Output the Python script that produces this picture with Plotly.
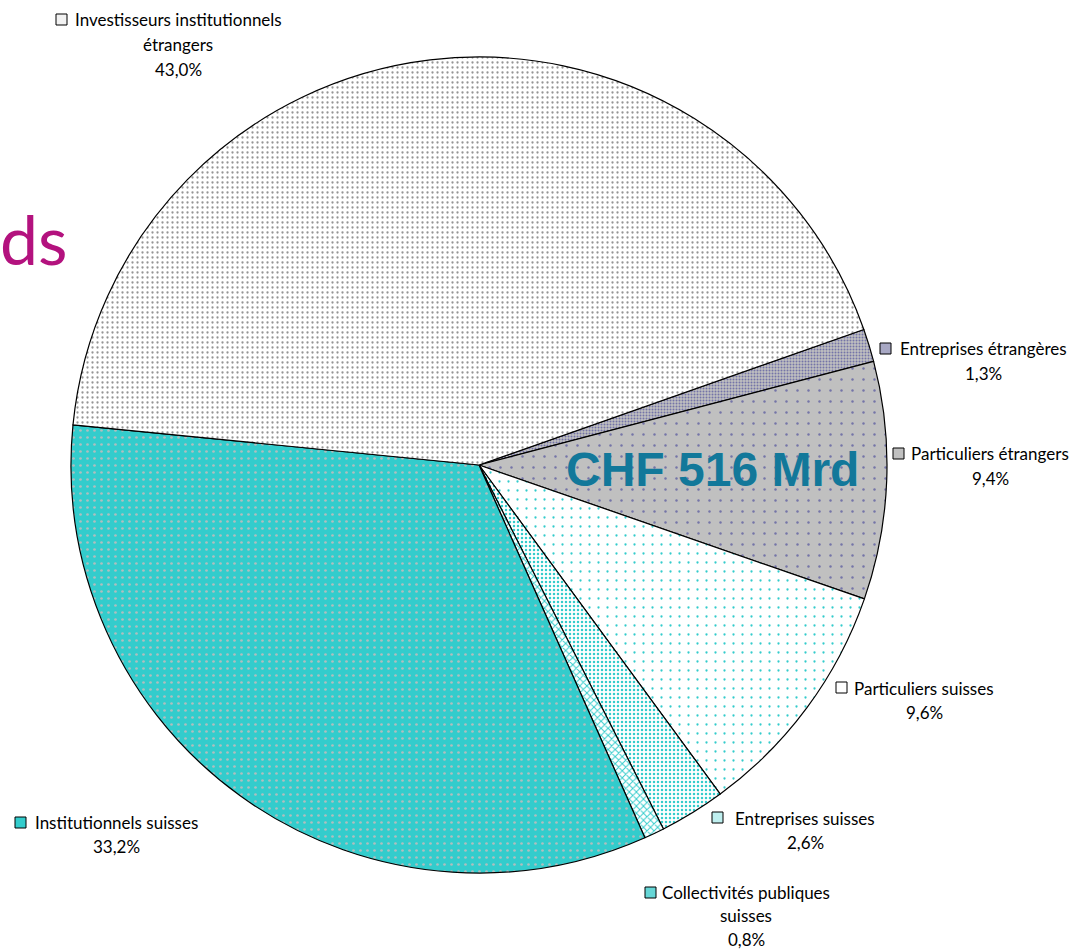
import plotly.graph_objects as go

W, H = 1075, 949

labels = ["Entreprises étrangères", "Particuliers étrangers", "Particuliers suisses",
          "Entreprises suisses", "Collectivités publiques suisses", "Institutionnels suisses",
          "Investisseurs institutionnels étrangers"]
values = [1.3, 9.4, 9.6, 2.6, 0.8, 33.2, 43.0]
label_texts = ["Entreprises étrangères<br>1,3%",
               "Particuliers étrangers<br>9,4%",
               "Particuliers suisses<br>9,6%",
               "Entreprises suisses<br>2,6%",
               "Collectivités publiques<br>suisses<br>0,8%",
               "Institutionnels suisses<br>33,2%",
               "Investisseurs institutionnels<br>étrangers<br>43,0%"]

bg = ["#C0C0C0", "#C0C0C0", "#FFFFFF", "#FFFFFF", "#FFFFFF", "#33CCCC", "#FFFFFF"]
fg = ["#7474A8", "#7474A8", "#33CCCC", "#33CCCC", "#33CCCC", "#B0BEBE", "#959595"]
key_fill = ["#A8A8C4", "#C0C0C0", "#FFFFFF", "#BFEFEF", "#66D6D6", "#33CCCC", "#F2F2F2"]
shapes_p = [".", ".", ".", ".", "x", ".", "."]
psize = [3, 11, 9, 4, 5, 7, 5]
psol = [0.35, 0.04, 0.05, 0.3, 0.35, 0.12, 0.16]


def px(x):
    return x / W


def py(y):
    return 1 - y / H


fig = go.Figure(go.Pie(
    labels=labels, values=values, sort=False, direction="clockwise", rotation=70.6,
    textinfo="none", hoverinfo="label+percent",
    marker=dict(colors=bg, line=dict(color="#000000", width=1.2),
                pattern=dict(shape=shapes_p, size=psize, solidity=psol,
                             fgcolor=fg, bgcolor=bg, fillmode="replace")),
    domain=dict(x=[px(71), px(887)], y=[py(873), py(57)]),
    showlegend=False,
))

# label text center x, first-line center y, line spacing; key boxes (left x, top y)
lab_x = [983, 990, 924, 805, 746, 116, 178]
lab_y0 = [349, 454, 688, 818, 892, 822, 20]
line_gap = [24.5, 24.5, 24.5, 24.5, 23.5, 24.5, 24.5]
box_x = [880, 893, 836, 712, 645, 15, 56]
box_y = [343, 448, 682, 812, 887, 817, 14]

annotations = []
shapes = []
for i in range(len(labels)):
    for j, line in enumerate(label_texts[i].split("<br>")):
        annotations.append(dict(x=px(lab_x[i]), y=py(lab_y0[i] + j * line_gap[i]),
                                xref="paper", yref="paper",
                                text=line, showarrow=False, align="center",
                                xanchor="center", yanchor="middle",
                                font=dict(family="Lato", size=17, color="#000000")))
    shapes.append(dict(type="rect", xref="paper", yref="paper",
                       x0=px(box_x[i]), x1=px(box_x[i] + 11),
                       y0=py(box_y[i] + 11), y1=py(box_y[i]),
                       fillcolor=key_fill[i],
                       line=dict(color="#000000", width=1)))

annotations.append(dict(x=px(712), y=py(470), xref="paper", yref="paper", text="<b>CHF 516 Mrd</b>",
                        showarrow=False, xanchor="center", yanchor="middle",
                        font=dict(family="Liberation Sans", size=48, color="#12789A")))
annotations.append(dict(x=px(70), y=py(238), xref="paper", yref="paper", text="ds",
                        showarrow=False, xanchor="right", yanchor="middle",
                        font=dict(family="Lato", size=68, color="#B3127E")))

fig.update_layout(width=W, height=H, margin=dict(l=0, r=0, t=0, b=0),
                  paper_bgcolor="#FFFFFF", plot_bgcolor="#FFFFFF",
                  annotations=annotations, shapes=shapes)

fig.write_html("out.html", config={"displayModeBar": False},
               post_script="document.body.style.margin='0';")
